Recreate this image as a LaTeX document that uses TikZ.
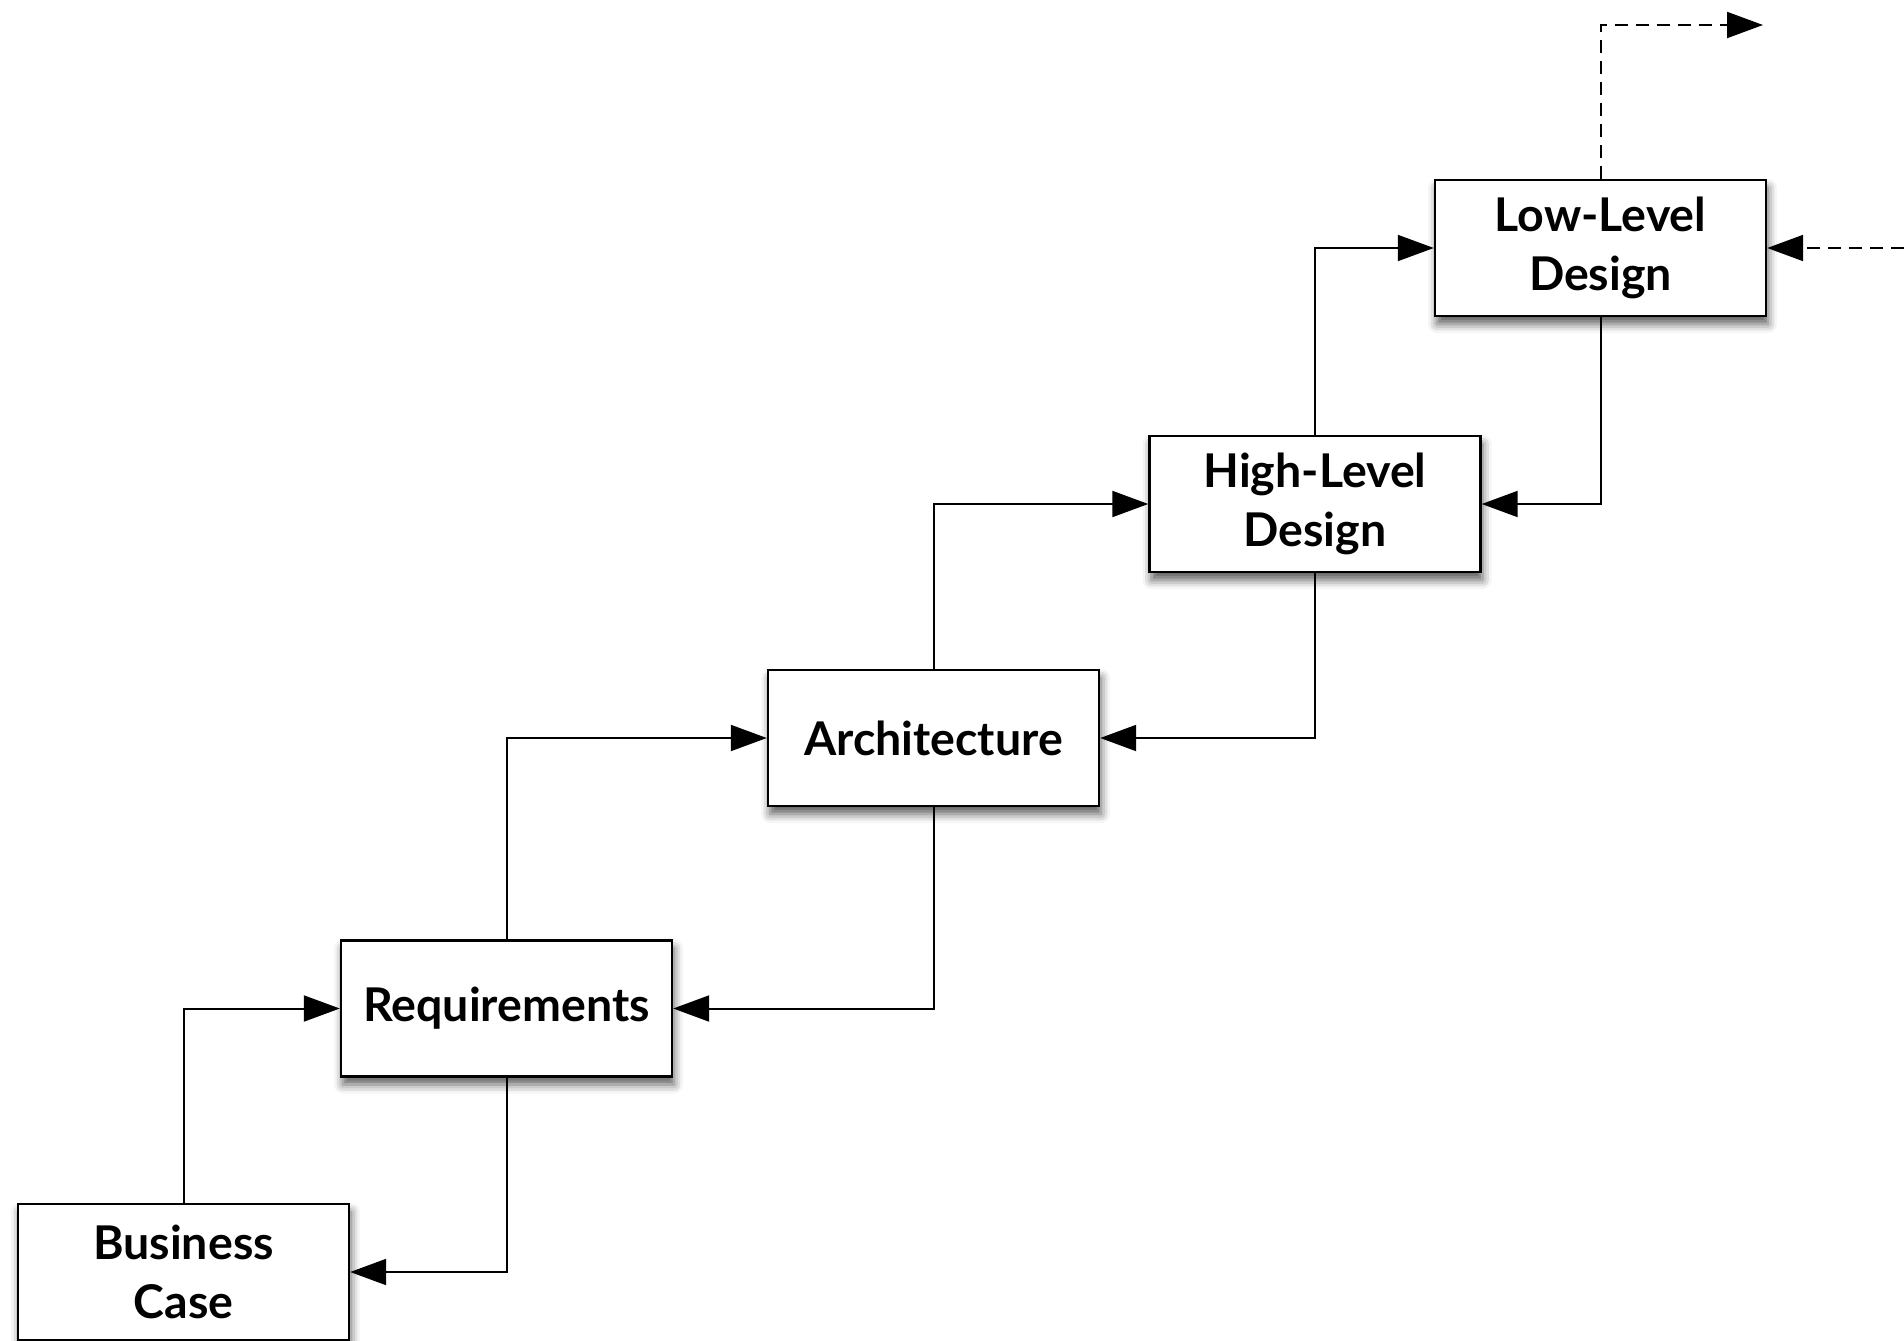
\documentclass[tikz,border=0pt]{standalone}
\usepackage{fontspec}
\setmainfont{Lato}
\usetikzlibrary{arrows.meta,shadows.blur}
\begin{document}
\begin{tikzpicture}[x=1pt,y=-1pt,
  box/.style={draw=black,line width=2.4pt,fill=white,minimum width=331pt,minimum height=136pt,
    inner sep=0pt,align=center,font=\fontsize{46.5}{59}\selectfont\bfseries,
    blur shadow={shadow xshift=2pt,shadow yshift=-8pt,shadow blur radius=9pt,shadow opacity=65}},
  conn/.style={line width=2pt,-{Triangle[length=36pt,width=26pt]}},
  dconn/.style={conn,dash pattern=on 13pt off 8pt}]
\useasboundingbox (0,0) rectangle (1904,1341);
\node[box] (bc) at (183.5,1272) {Business\\Case};
\node[box] (req) at (506.5,1008.5) {Requirements};
\node[box] (arch) at (933.5,738) {Architecture};
\node[box] (hld) at (1315,504) {High-Level\\Design};
\node[box] (lld) at (1600.5,248) {Low-Level\\Design};
\coordinate (topend) at (1763,25);
\coordinate (rightstart) at (1904,248);
\draw[conn] (bc.north) |- (req.west);
\draw[conn] (req.south) |- (bc.east);
\draw[conn] (req.north) |- (arch.west);
\draw[conn] (arch.south) |- (req.east);
\draw[conn] (arch.north) |- (hld.west);
\draw[conn] (hld.south) |- (arch.east);
\draw[conn] (hld.north) |- (lld.west);
\draw[conn] (lld.south) |- (hld.east);
\draw[dconn] (lld.north) |- (topend);
\draw[dconn] (rightstart) -- (lld.east);
\end{tikzpicture}
\end{document}
